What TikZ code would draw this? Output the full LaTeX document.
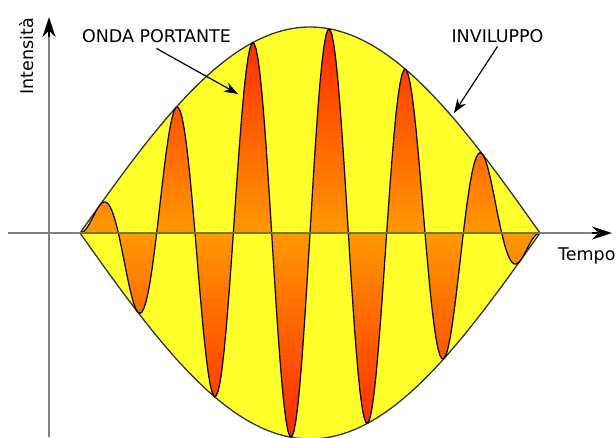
\documentclass[tikz,border=0pt]{standalone}
\usepackage{fontspec}
\setsansfont{DejaVu Sans}
\usetikzlibrary{arrows.meta}
\definecolor{envyellow}{RGB}{255,255,43}
\definecolor{wavered}{RGB}{255,40,0}
\definecolor{waveorange}{RGB}{255,153,0}
\definecolor{axisgray}{RGB}{128,128,128}
\definecolor{axisolive}{RGB}{120,120,30}

\begin{document}
\begin{tikzpicture}
  [x=1pt, y=-1pt,
   caption/.style={font=\sffamily\fontsize{17.5}{20}\selectfont, inner sep=0pt},
   axis/.style={line width=2pt, draw=axisgray},
   axistip/.style={-{Stealth[length=20pt, width=13pt]}, line width=2pt},
   pointer/.style={-{Stealth[length=14pt, width=10pt]}, line width=1.2pt}]
  \useasboundingbox (0,0) rectangle (616,437);
  % Envelope: half a sine above and below the time axis
  \filldraw[fill=envyellow, draw=black!80, line width=1.3pt]
    plot[domain=80:540, samples=116] (\x, {233-206*sin(180*((\x-80)/460))})
    -- plot[domain=540:80, samples=116] (\x, {233+206*sin(180*((\x-80)/460))})
    -- cycle;
  % Carrier wave: twelve half periods under the envelope
  \draw[top color=wavered, bottom color=wavered, middle color=waveorange,
        line width=1.2pt, line join=round]
    plot[domain=80:540, samples=231]
      (\x, {233-206*sin(180*((\x-80)/460))*sin(2160*((\x-80)/460))})
    -- cycle;
  % Axes
  \coordinate (tstart) at (8,233);
  \coordinate (tleft)  at (80,233);
  \coordinate (tright) at (540,233);
  \coordinate (tback)  at (592,233);
  \coordinate (tend)   at (612,233);
  \coordinate (istart) at (49,437);
  \coordinate (iback)  at (49,37);
  \coordinate (iend)   at (49,17);
  \draw[axis] (tstart) -- (tback);
  \draw[axis, draw=axisolive] (tleft) -- (tright);
  \draw[axis] (istart) -- (iback);
  \draw[axistip] (tback) -- (tend);
  \draw[axistip] (iback) -- (iend);
  % Labels
  \node[caption, anchor=base] (carrier)  at (156.5,42) {ONDA PORTANTE};
  \node[caption, anchor=base] (envelope) at (497.5,42) {INVILUPPO};
  \node[caption, anchor=base west] (time) at (558,260) {Tempo};
  \node[caption, anchor=base west, rotate=90] (intensity) at (34,95) {Intensità};
  % Pointers
  \coordinate (cartip) at (238,94);
  \coordinate (envtip) at (454,113);
  \draw[pointer] ([yshift=-6pt]carrier.south) -- (cartip);
  \draw[pointer] ([yshift=-4pt]envelope.south) -- (envtip);
\end{tikzpicture}
\end{document}
